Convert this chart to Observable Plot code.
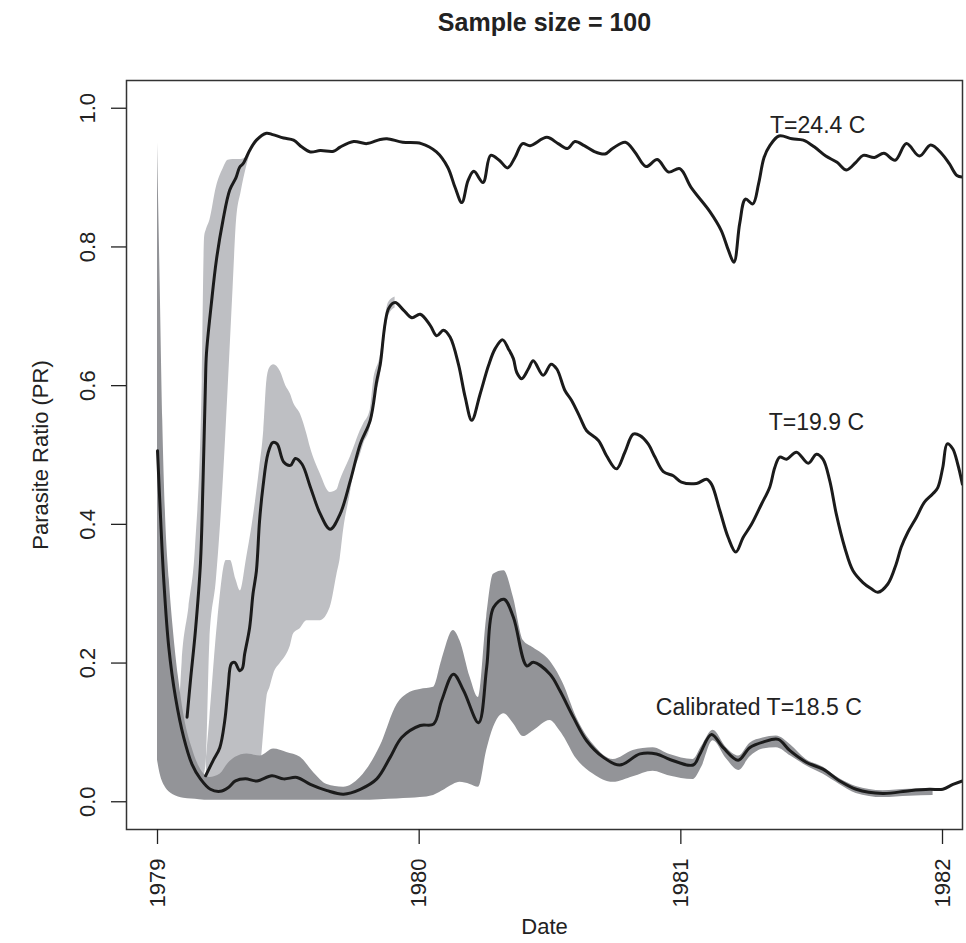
<!DOCTYPE html>
<html><head><meta charset="utf-8">
<script src="https://cdn.jsdelivr.net/npm/d3@7"></script>
<script src="https://cdn.jsdelivr.net/npm/@observablehq/plot@0.6"></script>
<style>body{margin:0;background:#fff} svg{display:block}</style>
</head><body><div id="chart"></div>
<script>
// ---- T = 24.4 C : mean trajectory ----
const t24Date = [1979.113,1979.126,1979.145,1979.164,1979.174,1979.183,1979.187,1979.206,1979.225,1979.25,1979.276,1979.30,1979.314,1979.327,1979.352,1979.378,1979.416,1979.44,1979.482,1979.52,1979.552,1979.584,1979.622,1979.673,1979.698,1979.75,1979.80,1979.851,1979.877,1979.937,1980.008,1980.066,1980.109,1980.137,1980.163,1980.187,1980.209,1980.244,1980.273,1980.306,1980.338,1980.366,1980.395,1980.424,1980.488,1980.531,1980.567,1980.595,1980.631,1980.667,1980.71,1980.739,1980.788,1980.824,1980.867,1980.91,1980.953,1980.996,1981.039,1981.111,1981.154,1981.182,1981.203,1981.225,1981.247,1981.275,1981.297,1981.318,1981.34,1981.375,1981.425,1981.468,1981.511,1981.554,1981.597,1981.633,1981.669,1981.697,1981.74,1981.776,1981.819,1981.862,1981.912,1981.955,1981.998,1982.026,1982.055,1982.076];
const t24Mean = [0.122,0.175,0.247,0.343,0.463,0.600,0.646,0.719,0.781,0.838,0.882,0.900,0.915,0.920,0.939,0.954,0.964,0.962,0.957,0.954,0.944,0.937,0.939,0.938,0.944,0.952,0.949,0.955,0.956,0.951,0.949,0.937,0.915,0.886,0.864,0.896,0.909,0.893,0.932,0.925,0.914,0.929,0.949,0.946,0.958,0.949,0.942,0.952,0.946,0.938,0.934,0.942,0.951,0.937,0.916,0.926,0.908,0.913,0.886,0.851,0.824,0.795,0.778,0.834,0.869,0.862,0.891,0.929,0.946,0.960,0.956,0.954,0.944,0.931,0.922,0.911,0.922,0.932,0.929,0.935,0.925,0.949,0.931,0.947,0.934,0.920,0.903,0.901];
// ---- T = 24.4 C : band ----
const t24BandDate = [1979.08,1979.094,1979.12,1979.145,1979.171,1979.18,1979.187,1979.20,1979.225,1979.25,1979.27,1979.289,1979.302,1979.32,1979.34,1979.36];
const t24Upper = [0.10,0.20,0.28,0.366,0.607,0.814,0.825,0.838,0.886,0.912,0.925,0.926,0.926,0.926,0.930,0.943];
const t24Lower = [0.02,0.02,0.025,0.03,0.03,0.04,0.063,0.23,0.32,0.454,0.597,0.742,0.838,0.880,0.915,0.940];

// ---- T = 19.9 C : mean trajectory ----
const t199Date = [1979.184,1979.212,1979.238,1979.257,1979.27,1979.282,1979.295,1979.314,1979.324,1979.333,1979.352,1979.365,1979.378,1979.39,1979.403,1979.422,1979.44,1979.457,1979.482,1979.508,1979.527,1979.552,1979.584,1979.622,1979.66,1979.698,1979.737,1979.775,1979.813,1979.838,1979.851,1979.883,1979.908,1979.94,1979.972,1980.004,1980.042,1980.067,1980.093,1980.118,1980.15,1980.176,1980.201,1980.233,1980.265,1980.29,1980.319,1980.341,1980.36,1980.373,1980.392,1980.417,1980.436,1980.474,1980.504,1980.526,1980.557,1980.582,1980.615,1980.64,1980.685,1980.716,1980.754,1980.786,1980.818,1980.844,1980.875,1980.901,1980.933,1980.971,1981.002,1981.06,1981.098,1981.117,1981.149,1981.181,1981.21,1981.238,1981.27,1981.308,1981.34,1981.359,1981.378,1981.404,1981.442,1981.487,1981.518,1981.543,1981.569,1981.594,1981.626,1981.658,1981.696,1981.728,1981.753,1981.791,1981.823,1981.842,1981.868,1981.9,1981.931,1981.963,1981.982,1982.001,1982.018,1982.039,1982.058,1982.076];
const t199Mean = [0.0375,0.059,0.078,0.117,0.165,0.199,0.201,0.189,0.192,0.213,0.251,0.300,0.333,0.405,0.454,0.502,0.518,0.516,0.490,0.485,0.495,0.487,0.454,0.415,0.393,0.415,0.463,0.516,0.550,0.607,0.630,0.711,0.720,0.709,0.698,0.703,0.687,0.672,0.680,0.670,0.631,0.583,0.550,0.588,0.629,0.653,0.666,0.653,0.639,0.619,0.610,0.624,0.636,0.615,0.631,0.624,0.593,0.579,0.554,0.535,0.521,0.499,0.480,0.504,0.530,0.528,0.516,0.497,0.476,0.470,0.461,0.459,0.465,0.458,0.420,0.381,0.360,0.381,0.400,0.429,0.454,0.482,0.497,0.494,0.504,0.488,0.501,0.494,0.463,0.415,0.367,0.333,0.316,0.307,0.302,0.314,0.343,0.367,0.389,0.410,0.432,0.444,0.453,0.482,0.516,0.509,0.487,0.458];
// ---- T = 19.9 C : band ----
const t199BandDate = [1979.187,1979.20,1979.23,1979.263,1979.279,1979.30,1979.317,1979.34,1979.368,1979.39,1979.406,1979.418,1979.43,1979.444,1979.47,1979.49,1979.508,1979.52,1979.546,1979.571,1979.584,1979.622,1979.66,1979.686,1979.698,1979.711,1979.737,1979.75,1979.775,1979.788,1979.813,1979.826,1979.85,1979.883,1979.908];
const t199Upper = [0.063,0.12,0.26,0.348,0.348,0.32,0.304,0.35,0.415,0.48,0.535,0.607,0.626,0.63,0.62,0.60,0.588,0.575,0.559,0.53,0.511,0.473,0.446,0.45,0.463,0.475,0.497,0.51,0.535,0.545,0.565,0.607,0.64,0.72,0.728];
const t199Lower = [0.03,0.03,0.03,0.03,0.03,0.03,0.03,0.03,0.03,0.04,0.10,0.15,0.165,0.184,0.20,0.21,0.225,0.242,0.25,0.261,0.261,0.261,0.28,0.328,0.35,0.391,0.445,0.473,0.50,0.516,0.54,0.575,0.61,0.70,0.712];

// ---- Calibrated T = 18.5 C : mean trajectory ----
const calDate = [1979.0,1979.011,1979.024,1979.043,1979.069,1979.1,1979.132,1979.164,1979.202,1979.24,1979.272,1979.298,1979.336,1979.38,1979.437,1979.482,1979.533,1979.584,1979.648,1979.711,1979.775,1979.838,1979.889,1979.934,1980.004,1980.055,1980.086,1980.131,1980.17,1980.227,1980.258,1980.284,1980.324,1980.36,1980.411,1980.436,1980.5,1980.538,1980.589,1980.64,1980.704,1980.767,1980.844,1980.907,1980.958,1981.047,1981.073,1981.117,1981.162,1981.219,1981.263,1981.314,1981.372,1981.416,1981.479,1981.543,1981.607,1981.67,1981.772,1981.874,1981.95,1982.001,1982.04,1982.076];
const calMean = [0.506,0.415,0.319,0.223,0.150,0.093,0.054,0.033,0.018,0.015,0.021,0.030,0.033,0.030,0.0375,0.033,0.035,0.025,0.016,0.011,0.018,0.033,0.064,0.093,0.110,0.112,0.146,0.184,0.160,0.114,0.194,0.280,0.292,0.266,0.196,0.201,0.184,0.160,0.122,0.088,0.064,0.053,0.069,0.069,0.061,0.053,0.069,0.097,0.078,0.060,0.078,0.086,0.090,0.074,0.057,0.047,0.030,0.018,0.012,0.016,0.018,0.018,0.025,0.030];
// ---- Calibrated T = 18.5 C : band ----
const calBandDate = [1979.0,1979.01,1979.02,1979.03,1979.045,1979.06,1979.08,1979.1,1979.13,1979.16,1979.2,1979.24,1979.27,1979.298,1979.342,1979.393,1979.444,1979.494,1979.546,1979.597,1979.648,1979.711,1979.775,1979.851,1979.915,1979.966,1980.004,1980.055,1980.086,1980.131,1980.156,1980.195,1980.227,1980.258,1980.284,1980.324,1980.36,1980.399,1980.436,1980.5,1980.538,1980.551,1980.601,1980.665,1980.742,1980.818,1980.894,1980.958,1981.047,1981.08,1981.123,1981.174,1981.222,1981.263,1981.314,1981.365,1981.42,1981.479,1981.543,1981.607,1981.67,1981.772,1981.874,1981.964];
const calUpper = [0.95,0.75,0.55,0.42,0.32,0.25,0.18,0.127,0.08,0.05,0.035,0.04,0.055,0.064,0.069,0.066,0.076,0.071,0.064,0.042,0.025,0.021,0.035,0.08,0.14,0.158,0.162,0.165,0.203,0.247,0.232,0.179,0.15,0.266,0.328,0.333,0.295,0.232,0.222,0.203,0.18,0.17,0.122,0.083,0.061,0.074,0.078,0.068,0.061,0.08,0.103,0.078,0.066,0.084,0.092,0.095,0.082,0.061,0.05,0.033,0.022,0.016,0.018,0.019];
const calLower = [0.06,0.04,0.028,0.021,0.014,0.01,0.007,0.005,0.004,0.003,0.002,0.002,0.002,0.002,0.002,0.002,0.002,0.002,0.002,0.002,0.002,0.002,0.002,0.003,0.004,0.005,0.006,0.009,0.015,0.025,0.028,0.025,0.021,0.074,0.107,0.127,0.113,0.094,0.102,0.117,0.102,0.095,0.062,0.04,0.028,0.036,0.044,0.037,0.032,0.05,0.088,0.062,0.045,0.064,0.076,0.078,0.066,0.052,0.04,0.025,0.012,0.006,0.008,0.009];

// ---- annotations, ticks, titles ----
const labelText = ["T=24.4 C", "T=19.9 C", "Calibrated T=18.5 C"];
const labelDate = [1981.523, 1981.518, 1981.298];
const labelValue = [0.975, 0.547, 0.136];
const xTicks = [1979, 1980, 1981, 1982];
const yTicks = [0, 0.2, 0.4, 0.6, 0.8, 1.0];
const titleText = "Sample size = 100";
const xTitle = "Date";
const yTitle = "Parasite Ratio (PR)";

const rows = (xs, ys) => xs.map((x, i) => ({x, y: ys[i]}));
const bandRows = (xs, lo, hi) => xs.map((x, i) => ({x, y1: lo[i], y2: hi[i]}));
const lineOpts = {x: "x", y: "y", stroke: "#1b1b1b", strokeWidth: 3, strokeLinejoin: "round", curve: "catmull-rom", clip: true};
const bandOpts = {x: "x", y1: "y1", y2: "y2", curve: "monotone-x", clip: true};

const chart = Plot.plot({
  width: 966, height: 943,
  marginLeft: 126, marginRight: 4, marginTop: 80, marginBottom: 114,
  x: {domain: [1978.8815, 1982.0764]},
  y: {domain: [-0.04, 1.04]},
  style: {fontFamily: "'Liberation Sans', Arial, sans-serif", fontSize: "22px", color: "#222", background: "#fff"},
  marks: [
    Plot.areaY(bandRows(t24BandDate, t24Lower, t24Upper), {...bandOpts, fill: "#bebfc3"}),
    Plot.areaY(bandRows(t199BandDate, t199Lower, t199Upper), {...bandOpts, fill: "#bebfc3"}),
    Plot.areaY(bandRows(calBandDate, calLower, calUpper), {...bandOpts, fill: "#939498"}),
    Plot.line(rows(t24Date, t24Mean), lineOpts),
    Plot.line(rows(t199Date, t199Mean), lineOpts),
    Plot.line(rows(calDate, calMean), lineOpts),
    Plot.text(labelText.map((t, i) => ({t, x: labelDate[i], y: labelValue[i]})), {x: "x", y: "y", text: "t", fontSize: 23, fill: "#222"}),
    Plot.frame({stroke: "#333", strokeWidth: 1.5}),
    Plot.axisX({ticks: xTicks, tickFormat: d => String(d), tickSize: 15, tickRotate: -90, tickPadding: 14, label: null, strokeWidth: 1.3}),
    Plot.axisY({ticks: yTicks, tickFormat: d => d.toFixed(1), tickSize: 15, tickRotate: -90, tickPadding: 17, label: null, strokeWidth: 1.3}),
    Plot.text([titleText], {text: d => d, frameAnchor: "top", dy: -67, fontSize: 25, fontWeight: "bold", fill: "#222"}),
    Plot.text([xTitle], {text: d => d, frameAnchor: "bottom", dy: 104, fontSize: 22, fill: "#222"}),
    Plot.text([yTitle], {text: d => d, frameAnchor: "left", textAnchor: "middle", dx: -86, rotate: -90, fontSize: 22, fill: "#222"})
  ]
});
document.getElementById("chart").appendChild(chart);
</script>
</body></html>
